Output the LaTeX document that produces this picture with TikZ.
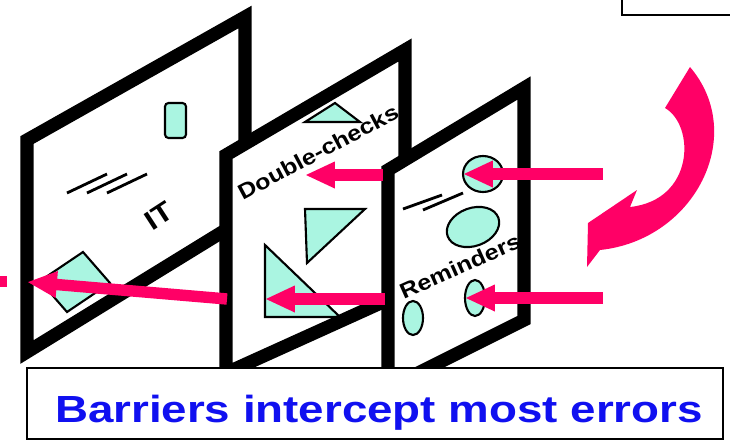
\documentclass[tikz,border=0pt]{standalone}
\usepackage{fontspec}
\setmainfont{Liberation Sans}
\usepackage{tikz}
\usetikzlibrary{arrows.meta,calc}

\definecolor{errorPink}{RGB}{255,0,102}
\definecolor{barrierCyan}{RGB}{170,245,225}
\definecolor{captionBlue}{RGB}{16,16,240}

\tikzset{
    barrier/.style = {line width = 7.5pt, line join = miter},
    blob/.style = {line width = 1.2pt, fill = barrierCyan},
    scratch/.style = {line width = 1.6pt},
    errArrow/.style = {errorPink, line width = 6.5pt, -{Triangle[length = 17pt, width = 14pt]}},
    panelText/.style = {inner sep = 0pt, font = \fontsize{12.3pt}{13pt}\selectfont\bfseries}
}

\begin{document}
\begin{tikzpicture}[x = 0.02cm, y = -0.02cm]

        \def\textScale{1.16}

        \useasboundingbox (0, 0) rectangle (730, 443);

        % barrier 1 (IT)
        \coordinate (P1a) at ( 27, 140);
        \coordinate (P1b) at (245,  17);
        \coordinate (P1c) at (245, 218);
        \coordinate (P1d) at ( 27, 352);

        \fill[white] (P1a) -- (P1b) -- (P1c) -- (P1d) -- cycle;
        \draw[blob, rounded corners = 2pt] (165, 103) rectangle (186, 138);
        \foreach \dx in {0, 20, 40} {
            \draw[scratch] ({67 + \dx}, 193) to ({107 + \dx}, 174);
        }
        \draw[blob] (83, 252) -- (110, 283) -- (67, 312) -- (40, 281) -- cycle;
        \node[panelText, font = \fontsize{15.5pt}{16pt}\selectfont\bfseries, rotate = 33] (itText) at (159, 216) {\scalebox{\textScale}[1]{IT}};
        \draw[barrier] (P1a) -- (P1b) -- (P1c) -- (P1d) -- cycle;

        % barrier 2 (Double-checks)
        \coordinate (P2a) at (226, 155);
        \coordinate (P2b) at (405,  50);
        \coordinate (P2c) at (405, 292);
        \coordinate (P2d) at (226, 373);

        \fill[white] (P2a) -- (P2b) -- (P2c) -- (P2d) -- cycle;
        \draw[blob] (305, 122) -- (335, 103) -- (360, 122) -- cycle;
        \draw[blob] (305, 209) -- (365, 209) -- (307, 263) -- cycle;
        \draw[blob] (265, 245) -- (265, 317) -- (340, 317) -- cycle;
        \node[panelText, rotate = 28] (checkText) at (318, 152) {\scalebox{\textScale}[1]{Double-checks}};
        \draw[barrier] (P2a) -- (P2b) -- (P2c) -- (P2d) -- cycle;

        % barrier 3 (Reminders)
        \coordinate (P3a) at (388, 170);
        \coordinate (P3b) at (524,  88);
        \coordinate (P3c) at (524, 320);
        \coordinate (P3d) at (388, 388);

        \fill[white] (P3a) -- (P3b) -- (P3c) -- (P3d) -- cycle;
        \draw[blob] (483, 174) ellipse [x radius = 20, y radius = 18];
        \draw[scratch] (403, 209) to (442, 195);
        \draw[scratch] (423, 210) to (463, 193);
        \draw[blob, rotate around = {20 : (473, 227)}] (473, 227) ellipse [x radius = 27, y radius = 19];
        \draw[blob] (475, 298) ellipse [x radius = 10, y radius = 18];
        \draw[blob] (413, 318) ellipse [x radius = 10, y radius = 17];
        \node[panelText, rotate = 24] (remindText) at (460, 266) {\scalebox{\textScale}[1]{Reminders}};
        \draw[barrier] (P3a) -- (P3b) -- (P3c) -- (P3d) -- cycle;

        % error trajectories
        \coordinate (inTop)   at (603, 174);
        \coordinate (hitTop)  at (463, 174);
        \coordinate (inLow)   at (603, 298);
        \coordinate (hitLow)  at (465, 298);
        \coordinate (passTop) at (383, 175);
        \coordinate (stopTop) at (305, 175);
        \coordinate (passLow) at (385, 299);
        \coordinate (stopLow) at (265, 299);
        \coordinate (passMid) at (227, 299);
        \coordinate (harm)    at ( 27, 282);

        \draw[errArrow] (inTop) to (hitTop);
        \draw[errArrow] (inLow) to (hitLow);
        \draw[errArrow] (passTop) to (stopTop);
        \draw[errArrow] (passLow) to (stopLow);
        \draw[errArrow] (passMid) to (harm);
        \fill[errorPink] (0, 276) rectangle (7, 287);

        % curved arrow
        \fill[errorPink] (690, 67) -- (665, 108) .. controls (695, 125) and (695, 200) .. (630, 207)
            -- (637, 190) -- (588, 223) -- (587, 267) -- (600, 250)
            .. controls (695, 240) and (748, 135) .. (690, 67) -- cycle;

        % boxes
        \draw[line width = 1.2pt] (622, -5) -- (622, 15) -- (735, 15);
        \draw[line width = 1.2pt, fill = white] (27, 368) rectangle (723, 439);
        \node[anchor = base, inner sep = 0pt, text = captionBlue, font = \fontsize{21.5pt}{24pt}\selectfont\bfseries] (caption) at (379, 422) {\scalebox{1.21}[1]{Barriers intercept most errors}};

    \end{tikzpicture}
\end{document}
